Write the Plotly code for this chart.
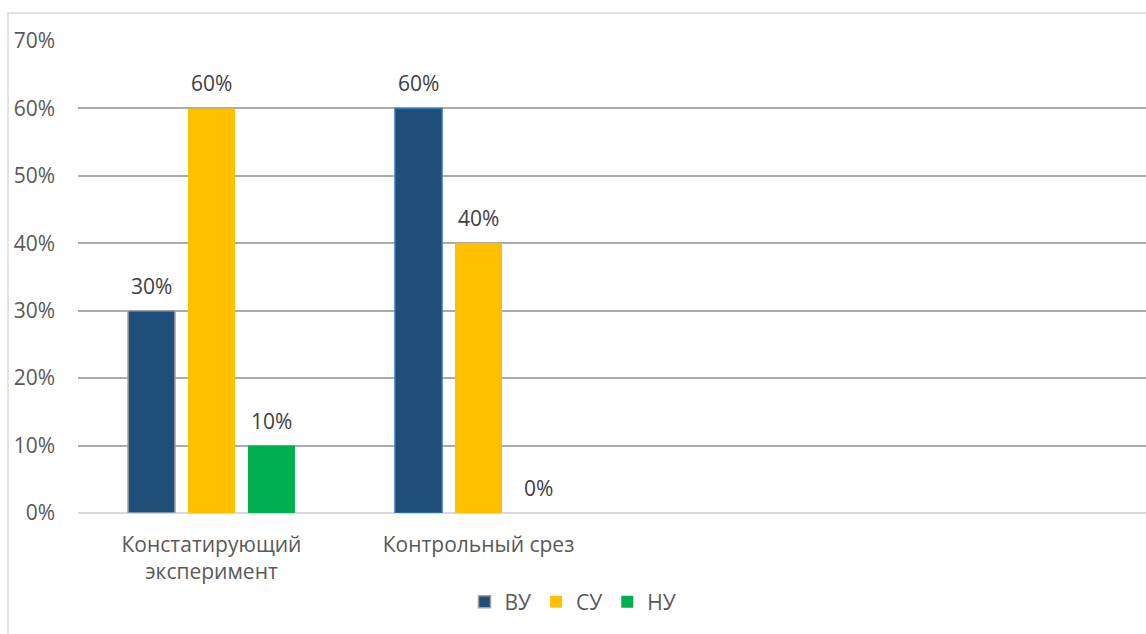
import plotly.graph_objects as go

categories = ["Констатирующий<br>эксперимент", "Контрольный срез"]
series_names = ["ВУ", "СУ", "НУ"]
vu_values = [0.30, 0.60]
su_values = [0.60, 0.40]
nu_values = [0.10, 0.00]
y_ticks = [0, 0.1, 0.2, 0.3, 0.4, 0.5, 0.6, 0.7]

colors = ["#1F4E79", "#FFC000", "#00B050"]
vu_border = ["#A0A0A0", "#2E75B6"]
text_color = "#595959"
FONT = "Open Sans"
FS = 21
BARGAP = 0.326
BARGROUPGAP = 0.217

all_values = [vu_values, su_values, nu_values]

fig = go.Figure()
for i, (name, vals) in enumerate(zip(series_names, all_values)):
    line = dict(width=1.5, color=vu_border) if i == 0 else dict(width=0)
    fig.add_trace(go.Bar(
        name=name, x=categories, y=vals,
        marker=dict(color=colors[i], line=line),
        hoverinfo="skip",
    ))

# data labels positioned from the data values and grouping settings
slot = (1 - BARGAP) / 3
annotations = []
for i, vals in enumerate(all_values):
    for j, v in enumerate(vals):
        annotations.append(dict(
            x=j + (i - 1) * slot, y=v, xref="x", yref="y",
            text=f"{round(v * 100)}%", showarrow=False,
            yanchor="middle", yshift=25,
            font=dict(family=FONT, size=FS, color="#404040"),
        ))

fig.update_layout(
    width=1146, height=634,
    margin=dict(l=78, r=0, t=41, b=121),
    paper_bgcolor="white", plot_bgcolor="white",
    barmode="group", bargap=BARGAP, bargroupgap=BARGROUPGAP,
    font=dict(family=FONT, size=FS, color=text_color),
    showlegend=True,
    legend=dict(
        orientation="h", xref="container", yref="container",
        x=0.5, xanchor="center", y=1 - 602 / 634, yanchor="middle",
        font=dict(family=FONT, size=FS, color=text_color),
        itemwidth=30, traceorder="normal",
    ),
    annotations=annotations,
    shapes=[dict(
        type="rect", xref="paper", yref="paper",
        x0=(8 - 78) / 1068, x1=1.2, y0=-0.5, y1=(513 - 13) / 472,
        line=dict(color="#D9D9D9", width=1.5), fillcolor="rgba(0,0,0,0)",
        layer="below",
    )],
)

fig.update_xaxes(
    type="category", range=[-0.5, 3.5], automargin=False,
    showgrid=False, showline=False, zeroline=False,
    ticks="", ticklabelstandoff=17,
    tickfont=dict(family=FONT, size=FS, color=text_color),
)
fig.update_yaxes(
    range=[0, 0.7], tickvals=y_ticks, tickformat=".0%", automargin=False,
    showgrid=True, gridcolor="#ABABAB", gridwidth=2,
    zeroline=True, zerolinecolor="#D9D9D9", zerolinewidth=2,
    showline=False, ticks="", ticklabelstandoff=22,
    tickfont=dict(family=FONT, size=FS, color=text_color),
)

fig.write_html(
    "out.html",
    config={"displayModeBar": False},
    post_script="document.body.style.margin='0';document.body.style.overflow='hidden';",
)
